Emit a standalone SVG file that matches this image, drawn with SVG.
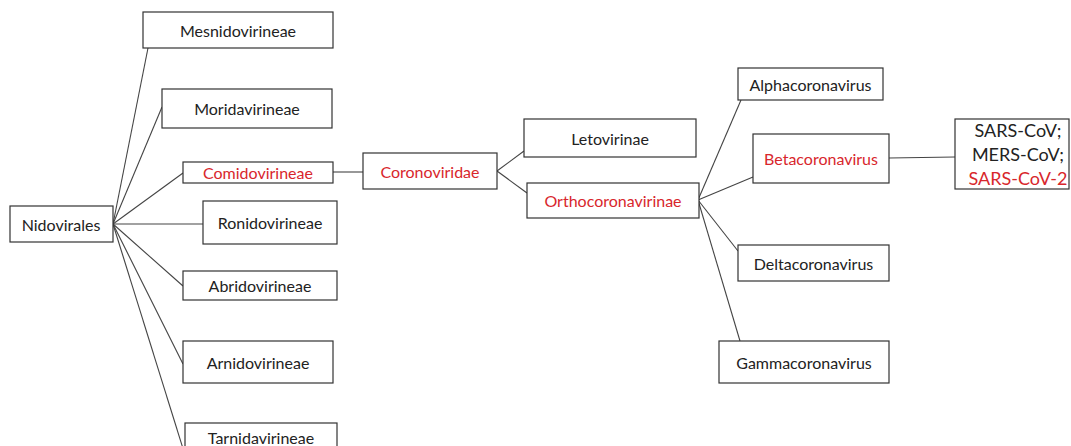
<svg xmlns="http://www.w3.org/2000/svg" width="1071" height="446" viewBox="0 0 1071 446">
<style>
.box{fill:#fff;stroke:#333;stroke-width:1.2}
.t{font-family:Lato,"Liberation Sans",sans-serif;font-size:16px;fill:#222;text-anchor:middle;dominant-baseline:central}
.r{fill:#d8262c}
.big{font-size:18px}
.c line{stroke:#444;stroke-width:1.1}
</style>
<rect width="1071" height="446" fill="#fff"/>
<g class="c" id="connectors">
<line x1="113" y1="224" x2="148" y2="48"/>
<line x1="113" y1="224" x2="162" y2="107"/>
<line x1="113" y1="224" x2="183" y2="173"/>
<line x1="113" y1="224" x2="203" y2="224"/>
<line x1="113" y1="224" x2="183" y2="286"/>
<line x1="113" y1="224" x2="183" y2="364"/>
<line x1="113" y1="224" x2="185" y2="455"/>
<line x1="333" y1="172" x2="363" y2="172"/>
<line x1="497" y1="171" x2="524" y2="151"/>
<line x1="497" y1="171" x2="527" y2="193"/>
<line x1="698" y1="200" x2="741" y2="100"/>
<line x1="698" y1="200" x2="753" y2="177"/>
<line x1="698" y1="200" x2="738" y2="251"/>
<line x1="698" y1="200" x2="740" y2="341"/>
<line x1="889" y1="158" x2="955" y2="157"/>
</g>
<g id="nidovirales"><rect class="box" x="10" y="206" width="103" height="36"/><text class="t" x="61" y="224">Nidovirales</text></g>
<g id="mesnidovirineae"><rect class="box" x="143" y="12" width="190" height="36"/><text class="t" x="238" y="30">Mesnidovirineae</text></g>
<g id="moridavirineae"><rect class="box" x="162" y="89" width="170" height="39"/><text class="t" x="247" y="108.5">Moridavirineae</text></g>
<g id="comidovirineae"><rect class="box" x="183" y="162" width="150" height="21"/><text class="t r" x="258" y="172.5">Comidovirineae</text></g>
<g id="ronidovirineae"><rect class="box" x="203" y="201" width="134" height="43"/><text class="t" x="270" y="222.5">Ronidovirineae</text></g>
<g id="abridovirineae"><rect class="box" x="183" y="271" width="154" height="29"/><text class="t" x="260" y="285.5">Abridovirineae</text></g>
<g id="arnidovirineae"><rect class="box" x="183" y="341" width="150" height="42"/><text class="t" x="258" y="362">Arnidovirineae</text></g>
<g id="tarnidavirineae"><rect class="box" x="185" y="423" width="152" height="32"/><text class="t" x="261" y="437">Tarnidavirineae</text></g>
<g id="coronoviridae"><rect class="box" x="363" y="153" width="134" height="36"/><text class="t r" x="430" y="171">Coronoviridae</text></g>
<g id="letovirinae"><rect class="box" x="524" y="119" width="172" height="38"/><text class="t" x="610" y="138">Letovirinae</text></g>
<g id="orthocoronavirinae"><rect class="box" x="527" y="183" width="172" height="35"/><text class="t r" x="613" y="200.5">Orthocoronavirinae</text></g>
<g id="alphacoronavirus"><rect class="box" x="738" y="68" width="145" height="32"/><text class="t" x="810.5" y="84">Alphacoronavirus</text></g>
<g id="betacoronavirus"><rect class="box" x="753" y="134" width="136" height="49"/><text class="t r" x="821" y="158.5">Betacoronavirus</text></g>
<g id="deltacoronavirus"><rect class="box" x="738" y="245" width="151" height="36"/><text class="t" x="813.5" y="263">Deltacoronavirus</text></g>
<g id="gammacoronavirus"><rect class="box" x="719" y="341" width="170" height="42"/><text class="t" x="804" y="362">Gammacoronavirus</text></g>
<g id="sars"><rect class="box" x="955" y="119" width="114" height="70"/>
<text class="t big" x="1018" y="130">SARS-CoV;</text>
<text class="t big" x="1018" y="154">MERS-CoV;</text>
<text class="t big r" x="1018" y="178">SARS-CoV-2</text></g>
</svg>
